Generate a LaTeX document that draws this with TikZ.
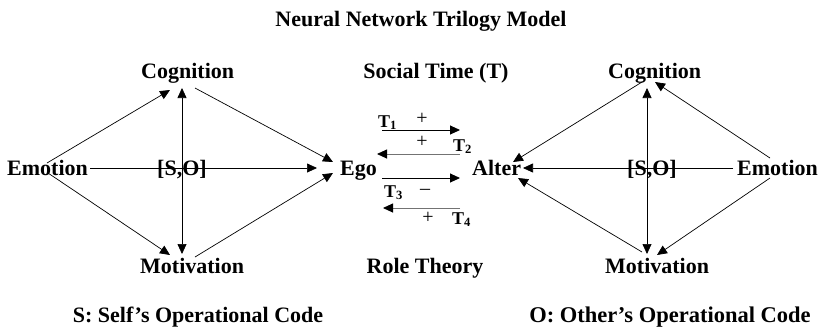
\documentclass[tikz,border=0pt]{standalone}
\usepackage{fontspec}
\setmainfont{Liberation Serif}
\usetikzlibrary{arrows.meta,calc}
\begin{document}
\begin{tikzpicture}[x=1pt,y=-1pt,
  lbl/.style={inner sep=0pt,anchor=base west,font=\fontsize{22}{26}\selectfont\bfseries},
  tlbl/.style={inner sep=0pt,anchor=base west,font=\fontsize{18}{21}\selectfont\bfseries},
  sgn/.style={inner sep=0pt,font=\fontsize{20}{24}\selectfont},
  arr/.style={line width=0.7pt,-{Triangle[length=10pt,width=9pt]}},
  darr/.style={line width=0.7pt,{Triangle[length=10pt,width=9pt]}-{Triangle[length=10pt,width=9pt]}},
  marr/.style={line width=0.9pt,-{Triangle[length=10pt,width=9pt]}},
  garr/.style={line width=0.9pt,draw=black!55,-{Triangle[length=10pt,width=9pt,color=black]}}]
\useasboundingbox (0,0) rectangle (819,330);
% title
\node[lbl,anchor=base] (title) at (421,26) {Neural Network Trilogy Model};
% left diamond
\node[lbl] (cogL) at (141,78) {Cognition};
\node[lbl] (emoL) at (7,175) {Emotion};
\node[lbl] (motL) at (140,273) {Motivation};
\node[lbl] (egoL) at (340,175) {Ego};
\node[lbl] (soL) at (157,175) {[S,O]};
% right diamond
\node[lbl] (cogR) at (608,78) {Cognition};
\node[lbl] (emoR) at (737,175) {Emotion};
\node[lbl] (motR) at (605,273) {Motivation};
\node[lbl] (altR) at (472,175) {Alter};
\node[lbl] (soR) at (627,175) {[S,O]};
% middle
\node[lbl,anchor=base] (soc) at (436,78) {Social Time (T)};
\node[lbl,anchor=base] (role) at (425,273) {Role Theory};
\node[tlbl] (t1) at (378,127) {T\textsubscript{1}};
\node[tlbl] (t2) at (453,151) {T\textsubscript{2}};
\node[tlbl] (t3) at (384,197) {T\textsubscript{3}};
\node[tlbl] (t4) at (452,224) {T\textsubscript{4}};
\node[sgn] (p1) at (422,119) {+};
\node[sgn] (p2) at (422,142) {+};
\node[sgn] (m3) at (425,192) {\textendash};
\node[sgn] (p4) at (428,218) {+};
% bottom
\node[lbl,anchor=base] (sdef) at (198,322) {S: Self’s Operational Code};
\node[lbl,anchor=base,font=\fontsize{22.5}{26}\selectfont\bfseries] (odef) at (670,322) {O: Other’s Operational Code};
% left connectors
\draw[arr] ($(emoL.base west)+(40,-12)$) -- ($(cogL.base west)+(29,12)$);
\draw[arr] ($(emoL.base west)+(41,-2)$) -- ($(motL.base west)+(30,-18)$);
\draw[arr] ($(emoL.base west)+(83,-7)$) -- ($(egoL.base west)+(-23,-7)$);
\draw[darr] ($(cogL.base west)+(41,10)$) -- ($(motL.base west)+(42,-19)$);
\draw[arr] ($(cogL.base west)+(54,10)$) -- ($(egoL.base west)+(-7,-13)$);
\draw[arr] ($(motL.base west)+(55,-16)$) -- ($(egoL.base west)+(-7,-2)$);
% right connectors
\draw[arr] ($(cogR.base west)+(34,4)$) -- ($(altR.base west)+(41,-13)$);
\draw[arr] ($(emoR.base west)+(33,-17)$) -- ($(cogR.base west)+(47,4)$);
\draw[arr] ($(emoR.base west)+(-4,-7)$) -- ($(altR.base west)+(51,-7)$);
\draw[arr] ($(emoR.base west)+(33,3)$) -- ($(motR.base west)+(52,-18)$);
\draw[darr] ($(cogR.base west)+(39,10)$) -- ($(motR.base west)+(42,-19)$);
\draw[arr] ($(motR.base west)+(37,-21)$) -- ($(altR.base west)+(46,3)$);
% middle connectors
\draw[marr] ($(egoL.base west)+(42,-45)$) -- ($(altR.base west)+(-12,-45)$);
\draw[garr] ($(altR.base west)+(-12,-21)$) -- ($(egoL.base west)+(37,-21)$);
\draw[marr] ($(egoL.base west)+(42,3)$) -- ($(altR.base west)+(-12,3)$);
\draw[garr] ($(altR.base west)+(-12,33)$) -- ($(egoL.base west)+(43,33)$);
\end{tikzpicture}
\end{document}
